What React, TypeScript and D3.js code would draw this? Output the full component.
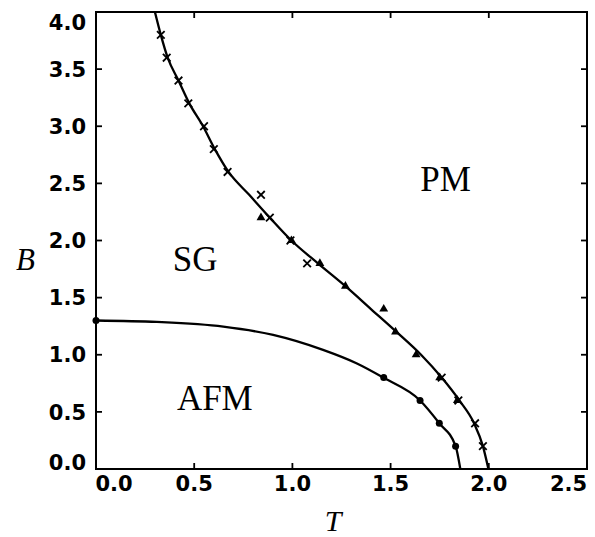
import React from "react";
import * as d3 from "d3";

// Data
const crosses: [number, number][] = [
  [0.33, 3.8], [0.36, 3.6], [0.42, 3.4], [0.47, 3.2], [0.55, 3.0], [0.6, 2.8],
  [0.67, 2.6], [0.84, 2.4], [0.885, 2.2], [0.99, 2.0], [1.075, 1.8],
  [1.76, 0.8], [1.845, 0.6], [1.93, 0.4], [1.97, 0.2],
];
const triangles: [number, number][] = [
  [0.84, 2.2], [0.995, 2.0], [1.14, 1.8], [1.27, 1.6], [1.465, 1.4],
  [1.525, 1.2], [1.63, 1.0], [1.75, 0.8], [1.84, 0.6],
];
const circles: [number, number][] = [
  [0.0, 1.3], [1.465, 0.8], [1.65, 0.6], [1.748, 0.4], [1.831, 0.2],
];
const upperCurve: [number, number][] = [
  [0.3, 4.0], [0.33, 3.8], [0.365, 3.6], [0.42, 3.4], [0.475, 3.2], [0.545, 3.0],
  [0.605, 2.8], [0.675, 2.6], [0.78, 2.4], [0.885, 2.2], [0.995, 2.0], [1.13, 1.8],
  [1.27, 1.6], [1.4, 1.4], [1.53, 1.2], [1.655, 1.0], [1.76, 0.8], [1.85, 0.6],
  [1.925, 0.4], [1.97, 0.2], [1.998, 0.0],
];
const lowerCurve: [number, number][] = [
  [0.0, 1.3], [0.31, 1.287], [0.648, 1.246], [0.902, 1.173], [1.156, 1.042],
  [1.326, 0.925], [1.462, 0.8], [1.65, 0.6], [1.748, 0.4], [1.831, 0.2], [1.855, 0.0],
];
const xTicks = [0, 0.5, 1.0, 1.5, 2.0, 2.5];
const yTicks = [0, 0.5, 1.0, 1.5, 2.0, 2.5, 3.0, 3.5, 4.0];
const regionLabels: { text: string; t: number; b: number }[] = [
  { text: "PM", t: 1.78, b: 2.43 },
  { text: "SG", t: 0.505, b: 1.73 },
  { text: "AFM", t: 0.605, b: 0.52 },
];

const W = 595;
const H = 537;
const left = 96, right = 587, top = 12, bottom = 469;

export default function App() {
  const x = d3.scaleLinear().domain([0, 2.5]).range([left, right]);
  const y = d3.scaleLinear().domain([0, 4.0]).range([bottom, top]);
  const line = d3
    .line<[number, number]>()
    .x((d) => x(d[0]))
    .y((d) => y(d[1]))
    .curve(d3.curveMonotoneX);

  const tickFont = { fontFamily: "'DejaVu Sans', sans-serif", fontWeight: 700, fontSize: 21 };
  const serif = "'Liberation Serif', 'Times New Roman', serif";
  const tri = d3.symbol().type(d3.symbolTriangle).size(34)();

  return (
    <svg
      width={W}
      height={H}
      style={{ position: "absolute", left: 0, top: 0, background: "#fff" }}
    >
      <rect x={0} y={0} width={W} height={H} fill="#fff" />
      <defs>
        <clipPath id="plot">
          <rect x={left} y={top} width={right - left} height={bottom - top} />
        </clipPath>
      </defs>

      {/* ticks (inward on all four sides) */}
      {xTicks.slice(1, -1).map((t) => (
        <g key={"xt" + t} stroke="#000" strokeWidth={1.8}>
          <line x1={x(t)} x2={x(t)} y1={bottom} y2={bottom - 6} />
          <line x1={x(t)} x2={x(t)} y1={top} y2={top + 6} />
        </g>
      ))}
      {yTicks.slice(1, -1).map((t) => (
        <g key={"yt" + t} stroke="#000" strokeWidth={1.8}>
          <line x1={left} x2={left + 6} y1={y(t)} y2={y(t)} />
          <line x1={right} x2={right - 6} y1={y(t)} y2={y(t)} />
        </g>
      ))}

      {/* frame */}
      <rect
        x={left}
        y={top}
        width={right - left}
        height={bottom - top}
        fill="none"
        stroke="#000"
        strokeWidth={2}
      />

      {/* tick labels */}
      {yTicks.map((t, i) => {
        let yy = y(t) + 7.7;
        if (i === yTicks.length - 1) yy = 30;
        if (i === 0) yy = 469.5;
        return (
          <text key={"yl" + t} x={86} y={yy} textAnchor="end" {...tickFont}>
            {t.toFixed(1)}
          </text>
        );
      })}
      {xTicks.map((t, i) => {
        let xx = x(t);
        if (i === 0) xx = 114;
        if (i === xTicks.length - 1) xx = 568.5;
        return (
          <text key={"xl" + t} x={xx} y={490.5} textAnchor="middle" {...tickFont}>
            {t.toFixed(1)}
          </text>
        );
      })}

      {/* axis titles */}
      <text x={25.5} y={270} textAnchor="middle" fontFamily={serif} fontStyle="italic" fontSize={31}>
        B
      </text>
      <text x={333} y={531} textAnchor="middle" fontFamily={serif} fontStyle="italic" fontSize={30}>
        T
      </text>

      {/* region labels */}
      {regionLabels.map((r) => (
        <text
          key={r.text}
          x={x(r.t)}
          y={y(r.b)}
          textAnchor="middle"
          fontFamily={serif}
          fontSize={35}
        >
          {r.text}
        </text>
      ))}

      {/* curves */}
      <g clipPath="url(#plot)">
        <path d={line(upperCurve) || ""} fill="none" stroke="#000" strokeWidth={2.3} />
        <path d={line(lowerCurve) || ""} fill="none" stroke="#000" strokeWidth={2.3} />
      </g>

      {/* markers */}
      {crosses.map(([t, b], i) => (
        <g key={"c" + i} stroke="#000" strokeWidth={1.8}>
          <line x1={x(t) - 3.8} x2={x(t) + 3.8} y1={y(b) - 3.8} y2={y(b) + 3.8} />
          <line x1={x(t) - 3.8} x2={x(t) + 3.8} y1={y(b) + 3.8} y2={y(b) - 3.8} />
        </g>
      ))}
      {triangles.map(([t, b], i) => (
        <path key={"t" + i} d={tri || ""} transform={`translate(${x(t)},${y(b)})`} fill="#000" />
      ))}
      {circles.map(([t, b], i) => (
        <circle key={"o" + i} cx={x(t)} cy={y(b)} r={3.5} fill="#000" />
      ))}
    </svg>
  );
}
